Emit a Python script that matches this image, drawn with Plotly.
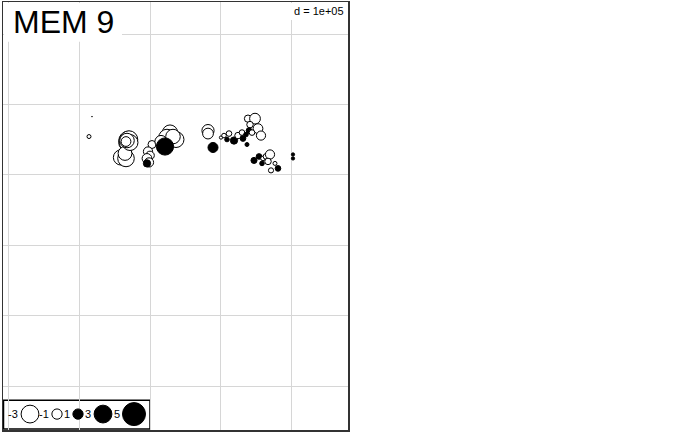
import math
import plotly.graph_objects as go

# ---- data (coordinates in metres, values of MEM 9) ----
x_m = [113779, 118019,
       168901, 167488, 170315, 166075, 168901, 159008, 166075, 164661,
       170315, 171728, 167488, 166075,
       202824, 197169, 199996, 195756, 198583, 195756,
       228264, 236745, 224022, 215543, 232505, 221197,
       281973, 281973, 289041,
       300349, 304588, 311652, 308831, 318722, 324378, 330029, 331445, 337093,
       338509, 348403, 341336, 339923, 352643, 356880, 335676, 344164,
       346998, 354063, 359712, 363956, 369609, 366782, 358304, 371023, 380903, 376667,
       402107, 402107]
y_m = [354512, 382760,
       348863, 346038, 347450, 344626, 350275, 324852, 323440, 330502,
       350275, 346038, 348863, 347450,
       343213, 333326, 327677, 323440, 317790, 316378,
       360162, 350275, 353100, 347450, 354512, 340388,
       362987, 358750, 338976,
       353100, 355925, 358750, 350275, 348863, 355925, 360162, 351688, 343213,
       379936, 379936, 371461, 362987, 365812, 355925, 357337, 360162,
       320615, 326264, 323440, 326264, 329089, 319202, 316378, 306491, 309316, 316378,
       329089, 323440]
mem9 = [-0.15, -0.005,
        -3.2, -2.6, -2.2, -1.6, -1.2, -2.2, -2.6, -1.8,
        -2.9, -2.4, -2.0, -0.9,
        -0.6, -0.8, -0.7, -0.9, -0.8, 0.5,
        -2.2, -2.4, -2.6, -1.4, -2.0, 2.8,
        -1.4, -1.1, 0.95,
        -0.1, -0.2, -0.3, 0.2, 0.5, -0.4, -0.3, 0.3, 0.15,
        -0.5, -1.1, -0.4, 0.3, -0.9, -0.8, 0.2, -0.3,
        0.35, 0.3, -0.2, -0.3, -0.8, -0.4, 0.2, -0.25, 0.3, -0.15,
        0.1, 0.1]
legend_values = [-3, -1, 1, 3, 5]
title_text = "MEM 9"
grid_label = "d = 1e+05"

# ---- layout constants (pixels) ----
W, H = 700, 432
L, R, T, B = 3, 348, 0, 430          # plot box
MAXD = 23.0                           # diameter for |z| = 5
MAXV = 5.0


def diam(v):
    return MAXD * math.sqrt(abs(v) / MAXV)


def fill(v):
    return "#000000" if v > 0 else "#ffffff"


fig = go.Figure()

fig.add_trace(go.Scatter(
    x=x_m, y=y_m, mode="markers", hoverinfo="skip", showlegend=False,
    marker=dict(size=[diam(v) for v in mem9],
                color=[fill(v) for v in mem9],
                line=dict(color="#000000", width=1), opacity=1),
))

# legend symbols on a pixel overlay axis (page pixel positions)
leg_cx = [30, 57, 78, 103, 134]
leg_cy = 414
fig.add_trace(go.Scatter(
    x=[c - L for c in leg_cx], y=[B - leg_cy] * len(leg_cx),
    xaxis="x2", yaxis="y2",
    mode="markers", hoverinfo="skip", showlegend=False, opacity=1,
    marker=dict(size=[diam(v) for v in legend_values],
                color=[fill(v) for v in legend_values],
                line=dict(color="#000000", width=1), opacity=1),
))

annotations = []
for v, cx in zip(legend_values, leg_cx):
    annotations.append(dict(
        x=cx - L - diam(v) / 2 - 1.0, y=B - leg_cy, xref="x2", yref="y2",
        text=str(v), showarrow=False, xanchor="right", yanchor="middle",
        font=dict(family="Liberation Sans", size=11, color="#000000")))

def px_x(p):
    return (p - L) / (R - L)

def px_y(p):
    return (B - p) / (B - T)

annotations.append(dict(
    x=px_x(11), y=px_y(20), xref="paper", yref="paper", text=title_text,
    showarrow=False, xanchor="left", yanchor="middle",
    font=dict(family="Liberation Sans", size=32, color="#000000")))
annotations.append(dict(
    x=px_x(346), y=px_y(9), xref="paper", yref="paper", text=grid_label,
    showarrow=False, xanchor="right", yanchor="middle",
    font=dict(family="Liberation Sans", size=11, color="#000000")))

shapes = [
    dict(type="rect", xref="paper", yref="paper", layer="above",
         x0=px_x(4), x1=px_x(122), y0=px_y(40), y1=px_y(1),
         fillcolor="white", line=dict(width=0)),
    dict(type="rect", xref="paper", yref="paper", layer="above",
         x0=px_x(286), x1=px_x(347), y0=px_y(18), y1=px_y(1),
         fillcolor="white", line=dict(width=0)),
    dict(type="rect", xref="paper", yref="paper", layer="below",
         x0=px_x(3.5), x1=px_x(150), y0=px_y(429), y1=px_y(400),
         fillcolor="white", line=dict(color="black", width=1.5)),
]

# axis ranges so that grid lines (every 1e5 m) sit where the reference has them
GX0, GY0, STEP = 8.5, 386.0, 70.75   # pixel of x=0, y=0 and pixels per 1e5
xr = [(L - GX0) / STEP * 1e5, (R - GX0) / STEP * 1e5]
yr = [(GY0 - B) / STEP * 1e5, (GY0 - T) / STEP * 1e5]

ax_common = dict(showticklabels=False, ticks="", zeroline=False,
                 showgrid=True, gridcolor="#d6d6d6", gridwidth=1,
                 tick0=0, dtick=1e5, showline=True, mirror=True,
                 linecolor="#333333", linewidth=1.5)

fig.update_layout(
    width=W, height=H, autosize=False,
    margin=dict(l=L, r=W - R, t=T, b=H - B, pad=0),
    paper_bgcolor="white", plot_bgcolor="white",
    xaxis=dict(range=xr, **ax_common),
    yaxis=dict(range=yr, **ax_common),
    xaxis2=dict(range=[0, R - L], overlaying="x", visible=False, anchor="y2"),
    yaxis2=dict(range=[0, B - T], overlaying="y", visible=False, anchor="x2"),
    annotations=annotations, shapes=shapes, showlegend=False,
)

fig.write_html("out.html",
               config={"displayModeBar": False, "staticPlot": True},
               post_script="document.body.style.margin='0';"
                           "document.body.style.overflow='hidden';")
